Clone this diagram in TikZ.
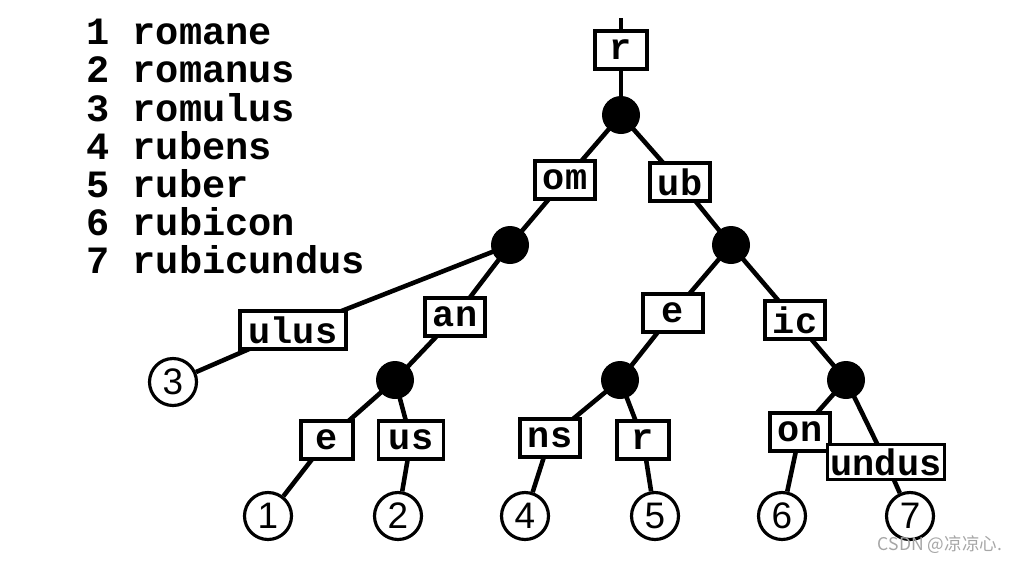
\documentclass[tikz,border=0pt]{standalone}
\usepackage{fontspec}
\setmonofont{Liberation Mono}
\newfontfamily\lsans{Liberation Sans}
\newfontfamily\cjk{Noto Sans CJK SC}
\usetikzlibrary{backgrounds}
\begin{document}
\begin{tikzpicture}[x=0.02cm,y=-0.02cm,
  lbl/.style={draw,fill=white,line width=1.8pt,font=\ttfamily\bfseries\fontsize{21}{21}\selectfont,inner sep=2pt,minimum height=0.76cm,minimum width=1.04cm},
  dot/.style={circle,fill=black,minimum size=0.76cm,inner sep=0},
  leaf/.style={circle,draw,line width=1.8pt,fill=white,minimum size=0.94cm,inner sep=0,font=\lsans\fontsize{21}{21}\selectfont},
  edge/.style={line width=2.6pt}]
\useasboundingbox (0,0) rectangle (1014,562);
\node[anchor=north west,align=left,font=\ttfamily\bfseries\fontsize{22}{21.7}\selectfont,inner sep=0] (legend) at (86,19)
 {1 romane\\2 romanus\\3 romulus\\4 rubens\\5 ruber\\6 rubicon\\7 rubicundus};
\coordinate (top) at (621,18);
\node[lbl,minimum width=1.04cm] (r) at (621,50) {r};
\node[dot] (d0) at (621,115) {};
\node[lbl,minimum width=1.2cm] (om) at (565,180) {om};
\node[lbl,minimum width=1.2cm] (ub) at (680,182) {ub};
\node[dot] (dL) at (510,245) {};
\node[dot] (dR) at (731,245) {};
\node[lbl,minimum width=2.12cm] (ulus) at (293,330) {ulus};
\node[lbl,minimum width=1.2cm] (an) at (455,317) {an};
\node[leaf] (c3) at (173,382) {3};
\node[dot] (dan) at (395,380) {};
\node[lbl] (e1) at (327,440) {e};
\node[lbl,minimum width=1.3cm] (us) at (411,440) {us};
\node[leaf] (c1) at (268,516) {1};
\node[leaf] (c2) at (398,516) {2};
\node[lbl,minimum width=1.2cm] (e2) at (673,313) {e};
\node[lbl,minimum width=1.2cm] (ic) at (795,320) {ic};
\node[dot] (de) at (620,380) {};
\node[dot] (dic) at (846,380) {};
\node[lbl,minimum width=1.2cm] (ns) at (550,438) {ns};
\node[lbl] (r2) at (643,440) {r};
\node[lbl,minimum width=1.2cm] (on) at (800,432) {on};
\node[lbl,minimum height=0.7cm] (undus) at (886,462) {undus};
\node[leaf] (c4) at (525,516) {4};
\node[leaf] (c5) at (655,516) {5};
\node[leaf] (c6) at (782,516) {6};
\node[leaf] (c7) at (910,516) {7};
\node[font=\cjk\fontsize{10}{10}\selectfont,text=gray!70] (wm) at (940,545) {CSDN @凉凉心.};
\begin{scope}[on background layer]
\draw[edge] (top) -- (r.center) -- (d0.center);
\draw[edge] (d0.center) -- (om.center) -- (dL.center);
\draw[edge] (d0.center) -- (ub.center) -- (dR.center);
\draw[edge] (dL.center) -- (ulus.center) -- (c3);
\draw[edge] (dL.center) -- (an.center) -- (dan.center);
\draw[edge] (dan.center) -- (e1.center) -- (c1);
\draw[edge] (dan.center) -- (us.center) -- (c2);
\draw[edge] (dR.center) -- (e2.center) -- (de.center);
\draw[edge] (dR.center) -- (ic.center) -- (dic.center);
\draw[edge] (de.center) -- (ns.center) -- (c4);
\draw[edge] (de.center) -- (r2.center) -- (c5);
\draw[edge] (dic.center) -- (on.center) -- (c6);
\draw[edge] (dic.center) -- (undus.center) -- (c7);
\end{scope}
\end{tikzpicture}
\end{document}
